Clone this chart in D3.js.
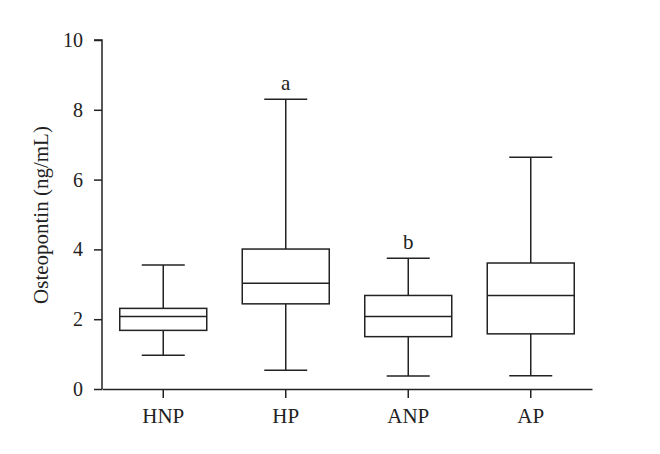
<!DOCTYPE html>
<html><head><meta charset="utf-8">
<script src="https://cdn.jsdelivr.net/npm/d3@7"></script>
<style>body{margin:0;background:#fff}</style>
</head><body>
<svg id="c" width="660" height="454"></svg>
<script>
const categories = ["HNP","HP","ANP","AP"];
const whiskerLow  = [0.97, 0.54, 0.37, 0.38];
const q1          = [1.68, 2.44, 1.50, 1.58];
const median      = [2.08, 3.03, 2.08, 2.68];
const q3          = [2.31, 4.01, 2.68, 3.61];
const whiskerHigh = [3.55, 8.30, 3.75, 6.64];
const annotations = ["", "a", "b", ""];
const yTicks = [0, 2, 4, 6, 8, 10];

(function(){
const svg = d3.select("#c");
const font = "'Liberation Serif', 'DejaVu Serif', serif";
const col = "#222";
const mL = 102, mR = 592, mT = 40, mB = 389;

const x = d3.scaleBand().domain(categories).range([mL, mR]);
const y = d3.scaleLinear().domain([0, 10]).range([mB, mT]);

const yAxis = svg.append("g").attr("transform", `translate(${mL},0)`)
  .call(d3.axisLeft(y).tickValues(yTicks).tickSize(8).tickPadding(11));
const xAxis = svg.append("g").attr("transform", `translate(0,${mB})`)
  .call(d3.axisBottom(x).tickSize(9).tickPadding(10).tickSizeOuter(0));
[yAxis, xAxis].forEach(a => {
  a.selectAll("path,line").attr("stroke", col).attr("stroke-width", 1.5);
  a.selectAll("text").attr("font-family", font).attr("font-size", 20).attr("fill", col);
});
xAxis.selectAll("text").attr("font-size", 21);
yAxis.select(".domain").attr("d", `M-8,${mT}H0V${mB}`);

svg.append("text")
  .attr("transform", `translate(48,215) rotate(-90)`)
  .attr("text-anchor", "middle").attr("font-family", font).attr("font-size", 21).attr("fill", col)
  .text("Osteopontin (ng/mL)");

const bw = 87, cw = 43;
const g = svg.append("g").attr("stroke", col).attr("stroke-width", 1.5).attr("fill", "none");
categories.forEach((c, i) => {
  const cx = x(c) + x.bandwidth() / 2;
  g.append("line").attr("x1", cx).attr("x2", cx).attr("y1", y(whiskerHigh[i])).attr("y2", y(q3[i]));
  g.append("line").attr("x1", cx).attr("x2", cx).attr("y1", y(q1[i])).attr("y2", y(whiskerLow[i]));
  g.append("line").attr("x1", cx - cw/2).attr("x2", cx + cw/2).attr("y1", y(whiskerHigh[i])).attr("y2", y(whiskerHigh[i]));
  g.append("line").attr("x1", cx - cw/2).attr("x2", cx + cw/2).attr("y1", y(whiskerLow[i])).attr("y2", y(whiskerLow[i]));
  g.append("rect").attr("x", cx - bw/2).attr("width", bw).attr("y", y(q3[i])).attr("height", y(q1[i]) - y(q3[i])).attr("fill", "#fff");
  g.append("line").attr("x1", cx - bw/2).attr("x2", cx + bw/2).attr("y1", y(median[i])).attr("y2", y(median[i]));
  if (annotations[i]) {
    svg.append("text").attr("x", cx).attr("y", y(whiskerHigh[i]) - 9)
      .attr("text-anchor", "middle").attr("font-family", font).attr("font-size", 21).attr("fill", col)
      .text(annotations[i]);
  }
});
})();
</script>
</body></html>
